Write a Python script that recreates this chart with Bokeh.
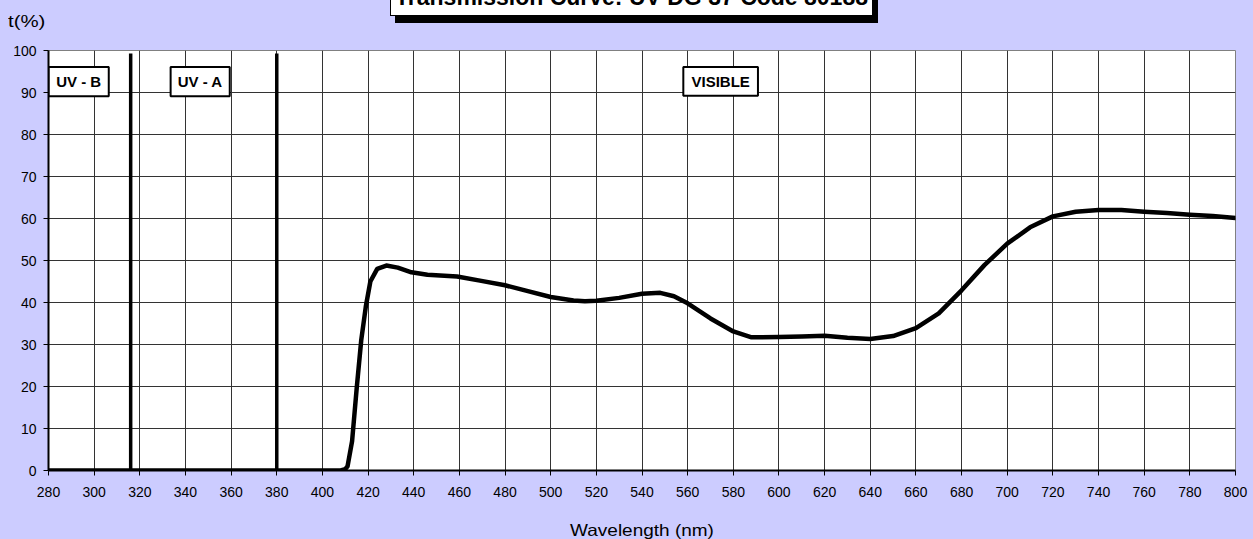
from bokeh.plotting import figure
from bokeh.models import Range1d, FixedTicker, Div
from bokeh.layouts import column
from bokeh.embed import file_html
from bokeh.resources import INLINE
from bokeh.core.properties import value

# ---- data ----
wavelength = [280, 300, 320, 340, 360, 380, 400, 408, 410, 411, 413, 415, 417, 419, 421,
              424, 428, 433, 439, 446, 459, 469, 480, 490, 500, 510, 515, 520, 530, 540,
              548, 554, 560, 570, 580, 588, 600, 610, 620, 630, 640, 650, 660, 670, 680,
              690, 700, 710, 720, 730, 740, 750, 760, 770, 780, 790, 800]
transmission = [0, 0, 0, 0, 0, 0, 0, 0, 0.3, 1.0, 7.0, 19.5, 31.0, 39.0, 45.0,
                48.0, 48.8, 48.3, 47.2, 46.6, 46.2, 45.2, 44.1, 42.7, 41.3, 40.5, 40.3, 40.4, 41.1, 42.1,
                42.3, 41.5, 39.8, 36.2, 33.1, 31.7, 31.8, 31.9, 32.1, 31.6, 31.3, 32.0, 33.9, 37.4, 42.9,
                48.9, 54.0, 57.9, 60.5, 61.6, 62.0, 62.0, 61.6, 61.3, 60.9, 60.6, 60.1]
x_ticks = list(range(280, 801, 20))
y_ticks = list(range(0, 101, 10))
boundaries = [316, 380]
region_names = ["UV - B", "UV - A", "VISIBLE"]
title_text = "Transmission Curve: UV DG 37 Code 80188"
y_caption = "t(%)"
x_caption = "Wavelength (nm)"

FONT = "Liberation Sans"
BG = "#CCCCFF"
W = 1253
HEAD = 42
FOOT = 34
H = 539 - HEAD - FOOT

# ---- header strip: title box with shadow and the y caption ----
head_html = f"""
<div style="position:relative;width:{W}px;height:{HEAD}px;overflow:hidden;background:{BG};
            font-family:'{FONT}',Arial,sans-serif;color:black;">
  <div style="position:absolute;left:8px;top:12.5px;font-size:17px;line-height:17px;
              white-space:nowrap;transform:scaleX(1.2);transform-origin:0 0;">{y_caption}</div>
  <div style="position:absolute;left:390px;top:-20px;width:483px;height:36px;box-sizing:border-box;
              background:white;border:1.5px solid black;box-shadow:5px 7px 0 black;"></div>
  <div style="position:absolute;left:390px;top:-14.5px;width:483px;text-align:center;
              font-size:23px;line-height:23px;font-weight:bold;white-space:nowrap;">{title_text}</div>
</div>
"""
head = Div(text=head_html, width=W, height=HEAD, margin=0,
           styles={"background-color": BG, "overflow": "hidden"})

# ---- footer strip: x caption ----
foot_html = f"""
<div style="position:relative;width:{W}px;height:{FOOT}px;overflow:hidden;background:{BG};
            font-family:'{FONT}',Arial,sans-serif;color:black;">
  <div style="position:absolute;left:441.5px;width:400px;top:17px;text-align:center;
              font-size:16.5px;line-height:16.5px;white-space:nowrap;
              transform:scaleX(1.15);transform-origin:50% 0;">{x_caption}</div>
</div>
"""
foot = Div(text=foot_html, width=W, height=FOOT, margin=0,
           styles={"background-color": BG, "overflow": "hidden"})

p = figure(width=W, height=H,
           x_range=Range1d(280, 800), y_range=Range1d(0, 100),
           output_backend="svg", toolbar_location=None,
           min_border_left=48, min_border_right=18,
           min_border_top=50 - HEAD, min_border_bottom=505 - 470,
           background_fill_color="white", border_fill_color=BG,
           outline_line_color="#808080", outline_line_width=1, margin=0,
           styles={"background-color": BG})

# axes
p.xaxis.ticker = FixedTicker(ticks=x_ticks)
p.yaxis.ticker = FixedTicker(ticks=y_ticks)
for ax in (p.xaxis, p.yaxis):
    ax.major_label_text_font = FONT
    ax.major_label_text_font_size = "14px"
    ax.major_label_text_color = "black"
    ax.axis_line_color = "black"
    ax.axis_line_width = 2
    ax.major_tick_line_color = "black"
    ax.major_tick_out = 5
    ax.major_tick_in = 0
    ax.minor_tick_line_color = None
p.xaxis.major_label_standoff = 11
p.yaxis.major_label_standoff = 7

# grid
p.xgrid.ticker = FixedTicker(ticks=x_ticks)
p.ygrid.ticker = FixedTicker(ticks=y_ticks)
for g in (p.xgrid, p.ygrid):
    g.grid_line_color = "#333333"
    g.grid_line_width = 1

# boundary lines between regions
p.segment(x0=boundaries, y0=[0, 0], x1=boundaries, y1=[99.3, 99.3],
          line_color="black", line_width=3.5)

# transmission curve
p.line(wavelength, transmission, line_color="black", line_width=4.5,
       line_join="round", line_cap="round")

# region label boxes
p.quad(left=[280, 333.5, 558.1], right=[306.4, 359.4, 590.8],
       top=[96.1, 96.1, 96.1], bottom=[89.1, 89.1, 89.2],
       fill_color="white", line_color="black", line_width=2)
p.text(x=[293.2, 346.45, 574.45], y=[92.6, 92.6, 92.6], text=region_names,
       text_align="center", text_baseline="middle",
       text_font=value(FONT), text_font_style="bold",
       text_font_size="15px", text_color="black")

layout = column(head, p, foot, spacing=0, margin=0,
                styles={"background-color": BG})
open("out.html", "w").write(file_html(layout, INLINE))
